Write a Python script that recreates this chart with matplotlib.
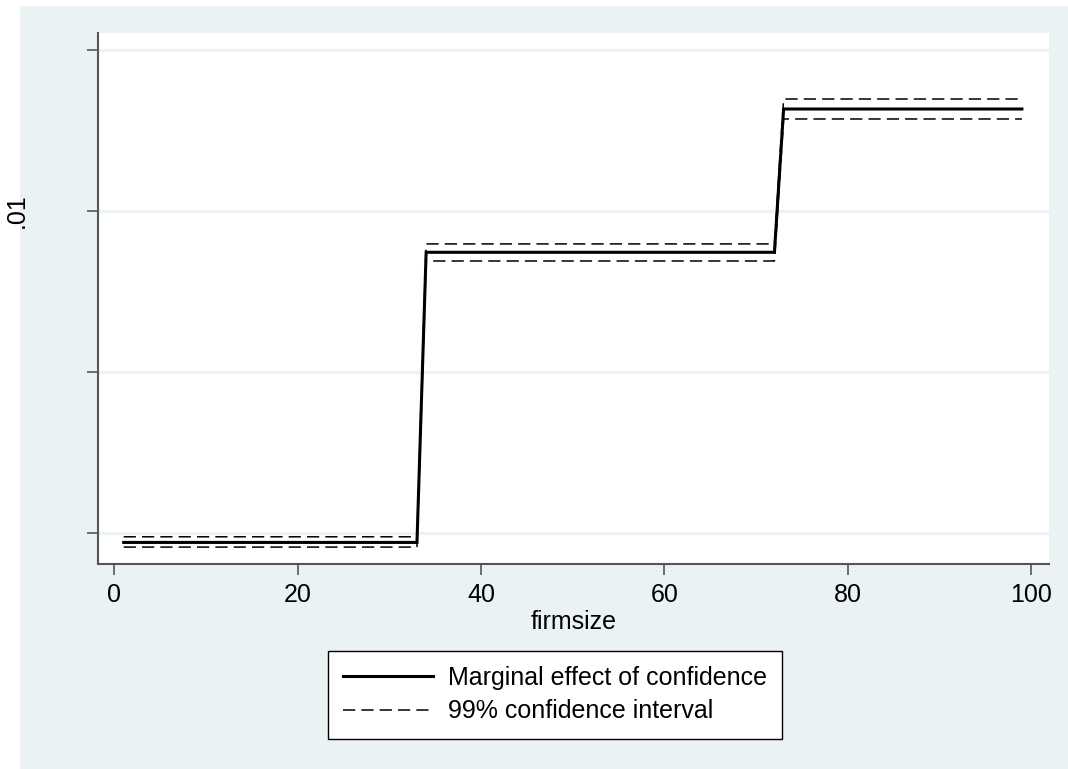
import matplotlib
matplotlib.use('Agg')
import matplotlib.pyplot as plt
from matplotlib.patches import Rectangle

plt.rcParams['font.family'] = ['Liberation Sans', 'DejaVu Sans']

# step points
firmsize = [1, 33, 34, 72, 73, 99]
marg_eff = [0.008971, 0.008971, 0.009872, 0.009872, 0.010317, 0.010317]
ci_upper = [0.0089885, 0.0089885, 0.009898, 0.009898, 0.010348, 0.010348]
ci_lower = [0.0089565, 0.0089565, 0.009845, 0.009845, 0.010286, 0.010286]

x_ticks = [0, 20, 40, 60, 80, 100]
y_ticks = [0.0090, 0.0095, 0.0100, 0.0105]
y_ticklabels = ['', '', '.01', '']

bg = '#eaf2f3'
W, H = 1068, 769

fig = plt.figure(figsize=(W / 100, H / 100), dpi=100)
fig.patch.set_facecolor('white')
fig.patches.append(Rectangle((20 / W, 0), 1 - 20 / W, 1 - 6 / H,
                             transform=fig.transFigure, facecolor=bg,
                             edgecolor='none', zorder=-10))

ax = fig.add_axes([98 / W, 1 - 564 / H, (1048.5 - 98) / W, (564 - 33) / H])
ax.set_facecolor('white')

ax.plot(firmsize, marg_eff, color='black', lw=2.2, solid_joinstyle='miter',
        label='Marginal effect of confidence', zorder=3)
ax.plot(firmsize, ci_upper, color='black', lw=1.1, dashes=(8, 4),
        label='99% confidence interval', zorder=3)
ax.plot(firmsize, ci_lower, color='black', lw=1.1, dashes=(8, 4), zorder=3)

ax.set_xlim(-1.8, 101.9)
ax.set_ylim(0.008904, 0.010553)
ax.set_xticks(x_ticks)
ax.set_yticks(y_ticks)
ax.set_yticklabels(y_ticklabels, rotation=90, va='center', ha='right')

for y in y_ticks:
    ax.axhline(y, color=bg, lw=2.2, zorder=1)

for s in ['top', 'right']:
    ax.spines[s].set_visible(False)
for s in ['left', 'bottom']:
    ax.spines[s].set_color('#555555')
    ax.spines[s].set_linewidth(1.5)

ax.tick_params(axis='x', length=8, width=1.2, color='#555555', labelsize=18, pad=6)
ax.tick_params(axis='y', length=8, width=1.2, color='#555555', labelsize=18, pad=42)

ax.set_xlabel('firmsize', fontsize=18, labelpad=2)

leg = fig.legend(loc='center', bbox_to_anchor=(555 / W, 1 - 694.5 / H),
                 fontsize=18, frameon=True, fancybox=False, edgecolor='black',
                 facecolor='white', framealpha=1,
                 handlelength=3.6, handletextpad=0.6, borderpad=0.6,
                 labelspacing=0.4, borderaxespad=0)
leg.get_frame().set_linewidth(1.0)

fig.savefig('out.png', dpi=100)
